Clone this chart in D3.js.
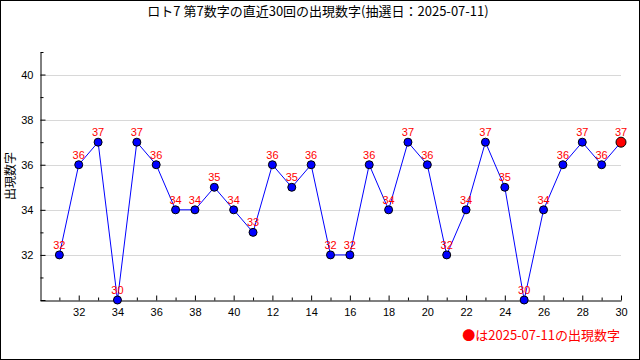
<!DOCTYPE html>
<html>
<head>
<meta charset="utf-8">
<script src="https://cdn.jsdelivr.net/npm/d3@7"></script>
<style>
  body { margin: 0; background: #fff; }
  svg { display: block; }
</style>
</head>
<body>
<div id="chart"></div>
<script>
// draw labels (last two digits) and the 7th number drawn
var drawLabels = ["31","32","33","34","35","36","37","38","39","40",
                  "11","12","13","14","15","16","17","18","19","20",
                  "21","22","23","24","25","26","27","28","29","30"];
var values = [32,36,37,30,37,36,34,34,35,34,
              33,36,35,36,32,32,36,34,37,36,
              32,34,37,35,30,34,36,37,36,37];
var yTicks = [32,34,36,38,40];
var titleText = "ロト7 第7数字の直近30回の出現数字(抽選日：2025-07-11)";
var legendText = "●は2025-07-11の出現数字";
var yLabel = "出現数字";

var W = 640, H = 360;
var margin = {top: 52, right: 19, bottom: 60, left: 40};

var svg = d3.select("#chart").append("svg")
  .attr("width", W).attr("height", H);

// frame
svg.append("rect")
  .attr("x", 0.5).attr("y", 0.5)
  .attr("width", W - 1).attr("height", H - 1)
  .attr("fill", "#fff").attr("stroke", "#000");

var x = d3.scaleLinear()
  .domain([-1, values.length - 1])
  .range([margin.left, W - margin.right]);
var y = d3.scaleLinear()
  .domain([30, 41])
  .range([H - margin.bottom, margin.top]);

var numFont = "'Liberation Sans', Arial, sans-serif";
var jpFont = "'Noto Sans CJK JP', sans-serif";

// gridlines
svg.append("g").selectAll("line")
  .data(yTicks).enter().append("line")
  .attr("x1", x(-1)).attr("x2", x(values.length - 1))
  .attr("y1", function(d){ return Math.round(y(d)) + 0.5; })
  .attr("y2", function(d){ return Math.round(y(d)) + 0.5; })
  .attr("stroke", "#d8d8d8");

// y axis (ticks inward)
var yAxis = d3.axisLeft(y)
  .tickValues(d3.range(30, 42))
  .tickSize(-5)
  .tickSizeOuter(0)
  .tickFormat(function(d){ return d % 2 == 0 && d > 30 ? d : ""; });
var gy = svg.append("g")
  .attr("transform", "translate(" + (margin.left + 0.5) + ",0)")
  .call(yAxis);
gy.selectAll(".tick line").attr("x2", function(d){ return d % 2 == 0 ? 5 : 3; });
gy.selectAll("text").attr("x", -7)
  .style("font-family", numFont).style("font-size", "11px").attr("fill", "#000");
gy.select(".domain").attr("stroke", "#000");

// x axis (ticks inward)
var xAxis = d3.axisBottom(x)
  .tickValues(d3.range(0, values.length))
  .tickSize(-5)
  .tickSizeOuter(0)
  .tickFormat(function(i){ return i % 2 == 1 ? drawLabels[i] : ""; });
var gx = svg.append("g")
  .attr("transform", "translate(0," + (H - margin.bottom + 0.5) + ")")
  .call(xAxis);
gx.selectAll(".tick line").attr("y2", function(i){ return i % 2 == 1 ? -5 : -3; });
gx.selectAll("text").attr("y", 8)
  .style("font-family", numFont).style("font-size", "11px").attr("fill", "#000");
gx.select(".domain").attr("stroke", "#000");

// line
var line = d3.line()
  .x(function(d, i){ return x(i); })
  .y(function(d){ return y(d); });
svg.append("path")
  .datum(values)
  .attr("d", line)
  .attr("fill", "none")
  .attr("stroke", "#0000ff")
  .attr("stroke-width", 1);

// points
svg.append("g").selectAll("circle")
  .data(values).enter().append("circle")
  .attr("cx", function(d, i){ return x(i); })
  .attr("cy", function(d){ return y(d); })
  .attr("r", function(d, i){ return i == values.length - 1 ? 5 : 4; })
  .attr("fill", function(d, i){ return i == values.length - 1 ? "#ff0000" : "#0000ff"; })
  .attr("stroke", "#000")
  .attr("stroke-width", 1);

// value labels
svg.append("g").selectAll("text")
  .data(values).enter().append("text")
  .attr("x", function(d, i){ return x(i); })
  .attr("y", function(d){ return y(d) - 6; })
  .attr("text-anchor", "middle")
  .style("font-family", numFont)
  .style("font-size", "11px")
  .attr("fill", "#ff0000")
  .text(function(d){ return d; });

// title
svg.append("text")
  .attr("x", 318).attr("y", 16)
  .attr("text-anchor", "middle")
  .style("font-family", jpFont)
  .style("font-size", "13px")
  .attr("fill", "#000")
  .text(titleText);

// y label
svg.append("text")
  .attr("transform", "translate(15," + 176 + ") rotate(-90)")
  .attr("text-anchor", "middle")
  .style("font-family", jpFont)
  .style("font-size", "12px")
  .attr("fill", "#000")
  .text(yLabel);

// legend
svg.append("text")
  .attr("x", 620).attr("y", 340)
  .attr("text-anchor", "end")
  .style("font-family", jpFont)
  .style("font-size", "13px")
  .attr("fill", "#ff0000")
  .text(legendText);
</script>
</body>
</html>
